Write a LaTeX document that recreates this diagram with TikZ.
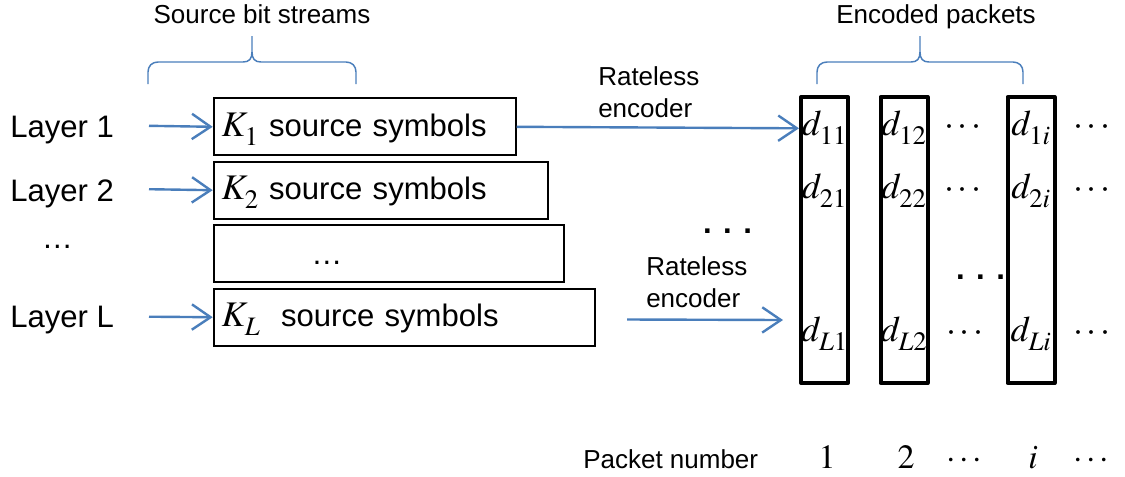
\documentclass[tikz,border=0pt]{standalone}
\usepackage{mathptmx}
\usepackage[no-math]{fontspec}
\setmainfont{Liberation Sans}
\usetikzlibrary{arrows.meta}
\definecolor{linkc}{HTML}{4A7EBB}
\newcommand\lowsub[1]{_{\lower 3pt\hbox{$\scriptstyle #1$}}}
\tikzset{
  ar/.style={-{Straight Barb[length=14pt,width=19pt]},line width=1.8pt,linkc},
  brc/.style={line width=1.1pt,linkc},
  srcbox/.style={draw,line width=1.5pt,anchor=north west,minimum height=42.75pt,inner xsep=6pt,inner ysep=0pt,align=left,text height=18pt,text depth=4pt,font=\fontsize{23.3}{27}\selectfont},
  pkt/.style={draw,line width=3pt,line join=round,minimum width=35.25pt,minimum height=214.5pt,inner sep=0pt},
  lbl/.style={font=\fontsize{23.3}{27}\selectfont,anchor=base west,inner sep=0pt},
  captxt/.style={font=\fontsize{19.5}{24}\selectfont,inner sep=0pt},
  sym/.style={font=\fontsize{27}{30}\selectfont,anchor=base,inner sep=0pt},
  num/.style={font=\fontsize{25.5}{30}\selectfont,anchor=base,inner sep=0pt},
  bdots/.style={font=\fontsize{23.3}{27}\selectfont\bfseries,inner sep=0pt}
}

\begin{document}
\begin{tikzpicture}[x=0.75pt,y=-0.75pt]
\useasboundingbox (0,0) rectangle (1125,476);
% headers and braces
\node[captxt,anchor=base] (srchd) at (262,23) {Source bit streams};
\node[captxt,anchor=base] (pkthd) at (936,23) {Encoded packets};
\draw[brc] (148,84) -- (148,72) .. controls (148,66) and (152,62) .. (158,62) -- (243,62) .. controls (249,62) and (252,59) .. (252,52) -- (252,36);
\draw[brc] (356,84) -- (356,72) .. controls (356,66) and (352,62) .. (346,62) -- (261,62) .. controls (255,62) and (252,59) .. (252,52);
\draw[brc] (817,84) -- (817,72) .. controls (817,66) and (821,62) .. (827,62) -- (911,62) .. controls (917,62) and (920,59) .. (920,52) -- (920,36);
\draw[brc] (1023,84) -- (1023,72) .. controls (1023,66) and (1019,62) .. (1013,62) -- (929,62) .. controls (923,62) and (920,59) .. (920,52);
% layers
\node[lbl] (lay1) at (10,137) {Layer 1};
\node[lbl] (lay2) at (10,201.5) {Layer 2};
\node[lbl,anchor=center] (layd) at (57.5,247) {…};
\node[lbl] (layL) at (10,327) {Layer L};
% source blocks
\node[srcbox,text width=214.5pt] (box1) at (212.7,97.3) {{\fontsize{27}{30}\selectfont$K\lowsub{1}$} source symbols};
\node[srcbox,text width=238.5pt] (box2) at (212.7,160.7) {{\fontsize{27}{30}\selectfont$K\lowsub{2}$} source symbols};
\node[srcbox,text width=250.7pt] (box3) at (212.7,224) {};
\node[lbl,anchor=center] (boxd) at (327,263) {…};
\node[srcbox,text width=274.2pt] (box4) at (212.7,287.7) {{\fontsize{27}{30}\selectfont$K\lowsub{L}$}\ \ source symbols};
\coordinate (in1) at (149,125.8);
\coordinate (in2) at (149,189.2);
\coordinate (inL) at (149,316.7);
\draw[ar] (in1) -- (box1.west);
\draw[ar] (in2) -- (box2.west);
\draw[ar] (inL) -- (box4.west);
% encoders
\node[captxt,align=left,anchor=north west] (enc1) at (598,66) {Rateless\\encoder};
\node[captxt,align=left,anchor=north west] (enc2) at (646,256) {Rateless\\encoder};
\coordinate (tip1) at (799,128.3);
\coordinate (tail2) at (627,319.5);
\coordinate (tip2) at (783,320);
\draw[ar] (box1.east) -- (tip1);
\draw[ar] (tail2) -- (tip2);
\node[bdots] (mid1) at (727.5,231) {. . .};
\node[bdots] (mid2) at (980.5,277) {. . .};
% packets
\node[pkt] (pk1) at (824.5,240) {};
\node[pkt] (pk2) at (904,240) {};
\node[pkt] (pki) at (1031,240) {};
\node[sym] (d11) at (824.5,135) {$d\lowsub{11}$};
\node[sym] (d12) at (904,135) {$d\lowsub{12}$};
\node[sym] (r1a) at (963,135) {$\cdots$};
\node[sym] (d1i) at (1031,135) {$d\lowsub{1i}$};
\node[sym] (r1b) at (1092,135) {$\cdots$};
\node[sym] (d21) at (824.5,198) {$d\lowsub{21}$};
\node[sym] (d22) at (904,198) {$d\lowsub{22}$};
\node[sym] (r2a) at (963,198) {$\cdots$};
\node[sym] (d2i) at (1031,198) {$d\lowsub{2i}$};
\node[sym] (r2b) at (1092,198) {$\cdots$};
\node[sym] (dL1) at (824.5,341) {$d\lowsub{L1}$};
\node[sym] (dL2) at (904,341) {$d\lowsub{L2}$};
\node[sym] (rLa) at (965,341) {$\cdots$};
\node[sym] (dLi) at (1031,341) {$d\lowsub{Li}$};
\node[sym] (rLb) at (1092,341) {$\cdots$};
% packet numbers
\node[captxt,anchor=base west] (pnum) at (583,468) {Packet number};
\node[num] (n1) at (827,468) {$1$};
\node[num] (n2) at (906,468) {$2$};
\node[num] (n3) at (964,468) {$\cdots$};
\node[num] (ni) at (1033,468) {$i$};
\node[num] (n4) at (1091,468) {$\cdots$};
\end{tikzpicture}
\end{document}
